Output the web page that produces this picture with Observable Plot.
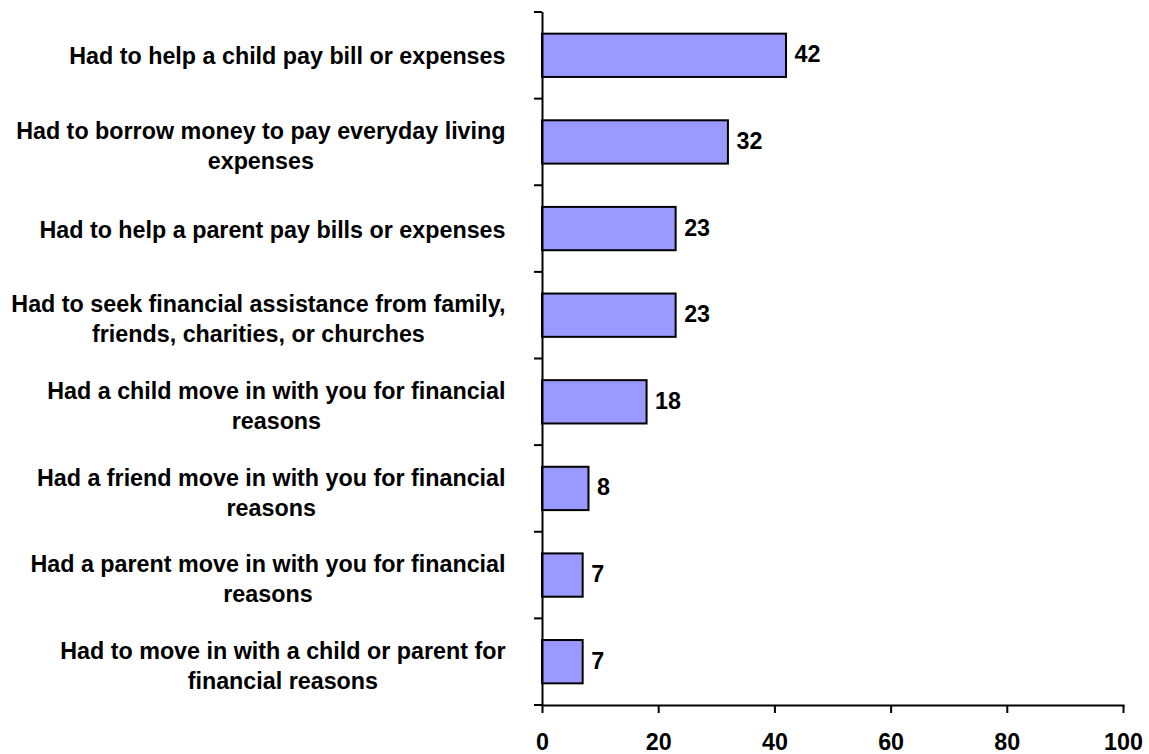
<!DOCTYPE html>
<html>
<head>
<meta charset="utf-8">
<script src="https://cdn.jsdelivr.net/npm/d3@7"></script>
<script src="https://cdn.jsdelivr.net/npm/@observablehq/plot@0.6"></script>
<style>
  html, body { margin: 0; padding: 0; background: #ffffff; }
  #chart svg { display: block; }
</style>
</head>
<body>
<div id="chart"></div>
<script>
const categories = [
  "Had to help a child pay bill or expenses",
  "Had to borrow money to pay everyday living expenses",
  "Had to help a parent pay bills or expenses",
  "Had to seek financial assistance from family, friends, charities, or churches",
  "Had a child move in with you for financial reasons",
  "Had a friend move in with you for financial reasons",
  "Had a parent move in with you for financial reasons",
  "Had to move in with a child or parent for financial reasons"
];
const tickLabels = [
  "Had to help a child pay bill or expenses",
  "Had to borrow money to pay everyday living\nexpenses",
  "Had to help a parent pay bills or expenses",
  "Had to seek financial assistance from family,\nfriends, charities, or churches",
  "Had a child move in with you for financial\nreasons",
  "Had a friend move in with you for financial\nreasons",
  "Had a parent move in with you for financial\nreasons",
  "Had to move in with a child or parent for\nfinancial reasons"
];
const values = [42, 32, 23, 23, 18, 8, 7, 7];
const xTicks = [0, 20, 40, 60, 80, 100];

const data = categories.map((c, i) => ({category: c, value: values[i]}));
const labelOf = new Map(categories.map((c, i) => [c, tickLabels[i]]));

// Ticks at the band boundaries of the category axis, using Plot's own y scale
function bandBoundaryTicks(index, scales, values, dimensions) {
  const y = scales.y;
  const bw = typeof y.bandwidth === "function" ? y.bandwidth() : y.bandwidth;
  const step = typeof y.step === "function" ? y.step() : (y(categories[1]) - y(categories[0]));
  const gap = (step - bw) / 2;
  const ys = categories.map(c => y(c) - gap);
  ys.push(y(categories[categories.length - 1]) + bw + gap);
  const x0 = dimensions.marginLeft;
  const g = d3.create("svg:g").attr("aria-label", "y-band-ticks");
  g.selectAll("line").data(ys).join("line")
    .attr("x1", x0 - 8).attr("x2", x0)
    .attr("y1", d => d).attr("y2", d => d)
    .attr("stroke", "black").attr("stroke-width", 2);
  return g.node();
}

const font = "'Liberation Sans', Arial, Helvetica, sans-serif";

const chart = Plot.plot({
  width: 1149,
  height: 754,
  marginLeft: 542,
  marginRight: 26,
  marginTop: 12,
  marginBottom: 49,
  style: {fontFamily: font, fontSize: "23px", fontWeight: "bold", color: "black", background: "white", overflow: "visible"},
  x: {domain: [0, 100]},
  y: {domain: categories, paddingInner: 0.5, paddingOuter: 0.25, round: false},
  marks: [
    Plot.barX(data, {x: "value", y: "category", fill: "#9999FF", stroke: "black", strokeWidth: 2}),
    Plot.text(data, {x: "value", y: "category", text: d => String(d.value), textAnchor: "start", dx: 8, dy: -1, fontSize: 23.3, fontWeight: "bold", fill: "black"}),
    Plot.ruleX([0], {stroke: "black", strokeWidth: 2}),
    Plot.frame({anchor: "bottom", stroke: "black", strokeWidth: 2}),
    Plot.axisX({ticks: xTicks, tickSize: 8, tickPadding: 20, strokeWidth: 2, label: null, fontSize: 23.3, fontWeight: "bold"}),
    Plot.axisY({tickSize: 0, tickPadding: 37, label: null, tickFormat: d => labelOf.get(d), lineHeight: 30 / 23.3, dy: -1, fontSize: 23.3, fontWeight: "bold"}),
    bandBoundaryTicks
  ]
});

document.getElementById("chart").appendChild(chart);

// Center wrapped lines on the widest line, keeping the block right-aligned
const yLabelGroup = chart.querySelector('[aria-label="y-axis tick label"]');
if (yLabelGroup) {
  yLabelGroup.querySelectorAll("text").forEach(t => {
    const spans = t.querySelectorAll("tspan");
    if (spans.length > 1) {
      let maxW = 0;
      spans.forEach(s => { maxW = Math.max(maxW, s.getComputedTextLength()); });
      t.setAttribute("text-anchor", "middle");
      spans.forEach(s => s.setAttribute("x", -maxW / 2));
      t.setAttribute("transform", (t.getAttribute("transform") || "") + " translate(0,3)");
    }
  });
}
</script>
</body>
</html>
